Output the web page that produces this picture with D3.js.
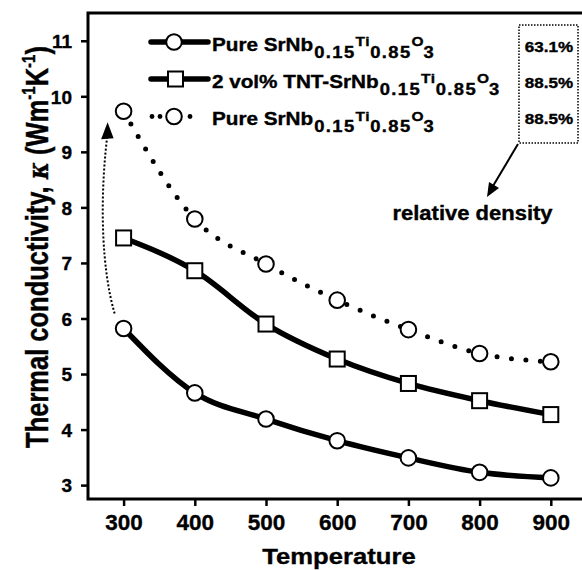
<!DOCTYPE html>
<html><head><meta charset="utf-8">
<script src="https://cdn.jsdelivr.net/npm/d3@7"></script>
<style>
html,body{margin:0;padding:0;background:#fff;}
svg{display:block;font-family:"Liberation Sans",Arial,sans-serif;font-weight:bold;}
svg text{stroke:#000;stroke-width:0.35px;}
</style></head>
<body><svg id="c" width="582" height="570"></svg>
<script>
const temperatures = [300, 400, 500, 600, 700, 800, 900];
const pure631 = [5.82, 4.66, 4.19, 3.80, 3.49, 3.23, 3.13];
const tnt885 = [7.45, 6.86, 5.90, 5.27, 4.83, 4.52, 4.27];
const pure885 = [9.73, 7.79, 6.98, 6.33, 5.80, 5.37, 5.22];
const xTicks = [300, 400, 500, 600, 700, 800, 900];
const yTicks = [3, 4, 5, 6, 7, 8, 9, 10, 11];
const densities = ["63.1%", "88.5%", "88.5%"];

const svg = d3.select("#c");
const x = d3.scaleLinear().domain([250, 950]).range([88, 586.4]);
const y = d3.scaleLinear().domain([2.75, 11.5]).range([499, 13]);

function stretchedText(parent, px, py, k, anchor) {
  return parent.append("text")
    .attr("transform", `translate(${px},${py}) scale(${k},1)`)
    .attr("text-anchor", anchor || "start");
}

// frame
svg.append("rect").attr("x", x(250)).attr("y", y(11.5))
  .attr("width", x(950) - x(250)).attr("height", y(2.75) - y(11.5))
  .attr("fill", "none").attr("stroke", "#000").attr("stroke-width", 3);

// axes
const xAxis = svg.append("g").attr("transform", `translate(0,${y(2.75)})`)
  .call(d3.axisBottom(x).tickValues(xTicks).tickSize(7).tickPadding(8));
const yAxis = svg.append("g").attr("transform", `translate(${x(250)},0)`)
  .call(d3.axisLeft(y).tickValues(yTicks).tickSize(7).tickPadding(9));
[xAxis, yAxis].forEach(g => {
  g.select(".domain").remove();
  g.selectAll(".tick line").attr("stroke", "#000").attr("stroke-width", 2.5);
  g.selectAll(".tick text").attr("fill", "#000")
    .style("font-weight", "bold").style("font-family", "Liberation Sans, Arial, sans-serif");
});
xAxis.selectAll(".tick text").style("font-size", "22.5px");
yAxis.selectAll(".tick text").style("font-size", "19px").attr("dy", "0.36em");

// axis titles
stretchedText(svg, 339, 564, 1.15, "middle").style("font-size", "22.3px").text("Temperature");
const yl = svg.append("text").attr("transform", "translate(47.5,247) rotate(-90) scale(1,1.22)")
  .attr("text-anchor", "middle").style("font-size", "25.5px");
yl.append("tspan").text("Thermal conductivity, ");
yl.append("tspan").style("font-style", "italic").style("font-family", "DejaVu Serif, serif").style("font-size", "23px").text("κ");
yl.append("tspan").text(" (Wm");
yl.append("tspan").attr("dy", -10).style("font-size", "15px").text("-1");
yl.append("tspan").attr("dy", 10).text("K");
yl.append("tspan").attr("dy", -10).style("font-size", "15px").text("-1");
yl.append("tspan").attr("dy", 10).text(")");

// lines
const line = d3.line().x((d, i) => x(temperatures[i])).y(d => y(d)).curve(d3.curveMonotoneX);
svg.append("path").datum(pure885).attr("d", line).attr("fill", "none")
  .attr("stroke", "#000").attr("stroke-width", 5).attr("stroke-linecap", "round")
  .attr("stroke-dasharray", "0 14.5");
svg.append("path").datum(tnt885).attr("d", line).attr("fill", "none")
  .attr("stroke", "#000").attr("stroke-width", 5.5);
svg.append("path").datum(pure631).attr("d", line).attr("fill", "none")
  .attr("stroke", "#000").attr("stroke-width", 5.5);

function circles(data) {
  svg.append("g").selectAll("circle").data(data).join("circle")
    .attr("cx", (d, i) => x(temperatures[i])).attr("cy", d => y(d)).attr("r", 7.8)
    .attr("fill", "#fff").attr("stroke", "#000").attr("stroke-width", 2);
}
circles(pure885);
circles(pure631);
svg.append("g").selectAll("rect").data(tnt885).join("rect")
  .attr("x", (d, i) => x(temperatures[i]) - 7.5).attr("y", d => y(d) - 7.5)
  .attr("width", 15).attr("height", 15)
  .attr("fill", "#fff").attr("stroke", "#000").attr("stroke-width", 2);

// dotted arrow near 300 (annotation)
const ax = x(300), ayLow = y(pure631[0]), ayHigh = y(pure885[0]);
svg.append("path")
  .attr("d", `M${ax - 9},${ayLow - 15} C${ax - 22},${ayLow - 60} ${ax - 24},${ayHigh + 90} ${ax - 16.5},${ayHigh + 26}`)
  .attr("fill", "none").attr("stroke", "#000").attr("stroke-width", 2)
  .attr("stroke-dasharray", "2 2");
svg.append("path")
  .attr("d", `M${ax - 16},${ayHigh + 11} L${ax - 22.5},${ayHigh + 28} L${ax - 10},${ayHigh + 27} Z`)
  .attr("fill", "#000");

// legend
const legendRows = [
  { y: 42, dotted: false, marker: "circle", pre: "Pure SrNb" },
  { y: 79, dotted: false, marker: "square", pre: "2 vol% TNT-SrNb" },
  { y: 116.5, dotted: true, marker: "circle", pre: "Pure SrNb" }
];
legendRows.forEach(r => {
  const g = svg.append("g");
  if (r.dotted) {
    g.selectAll("circle.d").data([152, 160, 190]).join("circle")
      .attr("cx", d => d).attr("cy", r.y).attr("r", 2.4).attr("fill", "#000");
  } else {
    g.append("line").attr("x1", 151).attr("x2", 208).attr("y1", r.y).attr("y2", r.y)
      .attr("stroke", "#000").attr("stroke-width", 5.5).attr("stroke-linecap", "round");
  }
  if (r.marker === "circle") {
    g.append("circle").attr("cx", 174).attr("cy", r.y).attr("r", 7.8)
      .attr("fill", "#fff").attr("stroke", "#000").attr("stroke-width", 2);
  } else {
    g.append("rect").attr("x", 168).attr("y", r.y - 7.5).attr("width", 15).attr("height", 15)
      .attr("fill", "#fff").attr("stroke", "#000").attr("stroke-width", 2);
  }
  const t = stretchedText(g, 212, r.y + 8.7, 1.15).style("font-size", "18px");
  t.append("tspan").text(r.pre);
  t.append("tspan").attr("dy", 7).attr("dx", 1).style("font-size", "16px").style("letter-spacing", "1.2px").text("0.15");
  t.append("tspan").attr("dy", -11.5).style("font-size", "13.5px").style("letter-spacing", "0.5px").text("Ti");
  t.append("tspan").attr("dy", 11.5).style("font-size", "16px").style("letter-spacing", "1.2px").text("0.85");
  t.append("tspan").attr("dy", -11.5).style("font-size", "13.5px").text("O");
  t.append("tspan").attr("dy", 11.5).style("font-size", "16px").text("3");
});

// density box
svg.append("rect").attr("x", 519).attr("y", 25).attr("width", 59).attr("height", 118)
  .attr("fill", "none").attr("stroke", "#000").attr("stroke-width", 1.5).attr("stroke-dasharray", "1.5 1.5");
densities.forEach((d, i) => {
  stretchedText(svg, 549, 52 + i * 36, 1.2, "middle").style("font-size", "14.2px").text(d);
});
svg.append("line").attr("x1", 518).attr("y1", 144).attr("x2", 493).attr("y2", 186)
  .attr("stroke", "#000").attr("stroke-width", 2);
svg.append("path").attr("d", "M487,197 L489,182 L499,188 Z").attr("fill", "#000");
stretchedText(svg, 472.5, 220, 1.1, "middle").style("font-size", "20px").text("relative density");
</script></body></html>
